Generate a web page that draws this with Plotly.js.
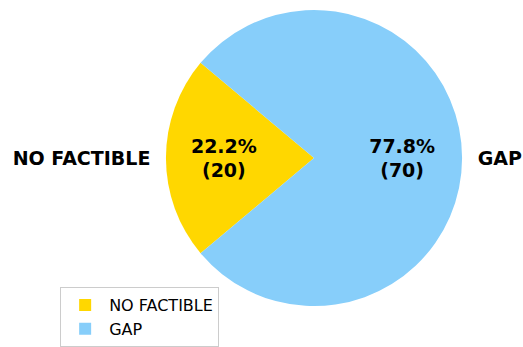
<!DOCTYPE html>
<html>
<head>
<meta charset="utf-8">
<script src="https://cdn.plot.ly/plotly-3.0.1.min.js"></script>
<style>html,body{margin:0;padding:0;background:#fff;}#chart{width:523px;height:347px;}</style>
</head>
<body>
<div id="chart"></div>
<script>
const labels = ['NO FACTIBLE', 'GAP'];
const values = [20, 70];
const colors = ['#FFD700', '#87CEFA'];

const dom = {x: [0.3155, 0.8853], y: [0.1153, 0.9712]};
const outerDom = {x: [0.2964, 0.9044], y: [0.086, 1.0]};
const boldFont = {family: 'DejaVu Sans', size: 19, weight: 'bold', color: '#000'};
const pctTpl = '%{percent:.1%}<br>(%{value})';
const clear = ['rgba(0,0,0,0)', 'rgba(0,0,0,0)'];

const main = {
  type: 'pie', labels: labels, values: values, sort: false, direction: 'counterclockwise',
  rotation: -130, domain: dom,
  marker: {colors: colors, line: {width: 0}},
  textposition: 'inside', insidetextorientation: 'horizontal',
  texttemplate: [pctTpl, ''], insidetextfont: boldFont
};
const gapText = {
  type: 'pie', labels: labels, values: values, sort: false, direction: 'counterclockwise',
  rotation: -130, domain: dom, hole: 0.19, showlegend: false, hoverinfo: 'skip',
  marker: {colors: clear, line: {width: 0}},
  textposition: 'inside', insidetextorientation: 'horizontal',
  texttemplate: ['', pctTpl], insidetextfont: boldFont
};
const outer = {
  type: 'pie', labels: labels, values: values, sort: false, direction: 'counterclockwise',
  rotation: -130, domain: outerDom, showlegend: false, hoverinfo: 'skip',
  marker: {colors: clear, line: {width: 0}},
  textposition: 'outside', texttemplate: '%{label}', outsidetextfont: boldFont,
  automargin: false
};

const layout = {
  width: 523, height: 347, margin: {l: 0, r: 0, t: 0, b: 0},
  paper_bgcolor: '#fff', plot_bgcolor: '#fff',
  showlegend: true,
  legend: {x: 0.115, y: 0.17, xanchor: 'left', yanchor: 'top', itemwidth: 38,
    bordercolor: '#cccccc', borderwidth: 1, bgcolor: '#fff',
    font: {family: 'DejaVu Sans', size: 16, color: '#000'}, traceorder: 'normal'}
};
Plotly.newPlot('chart', [main, gapText, outer], layout, {displayModeBar: false, staticPlot: true});
</script>
</body>
</html>
